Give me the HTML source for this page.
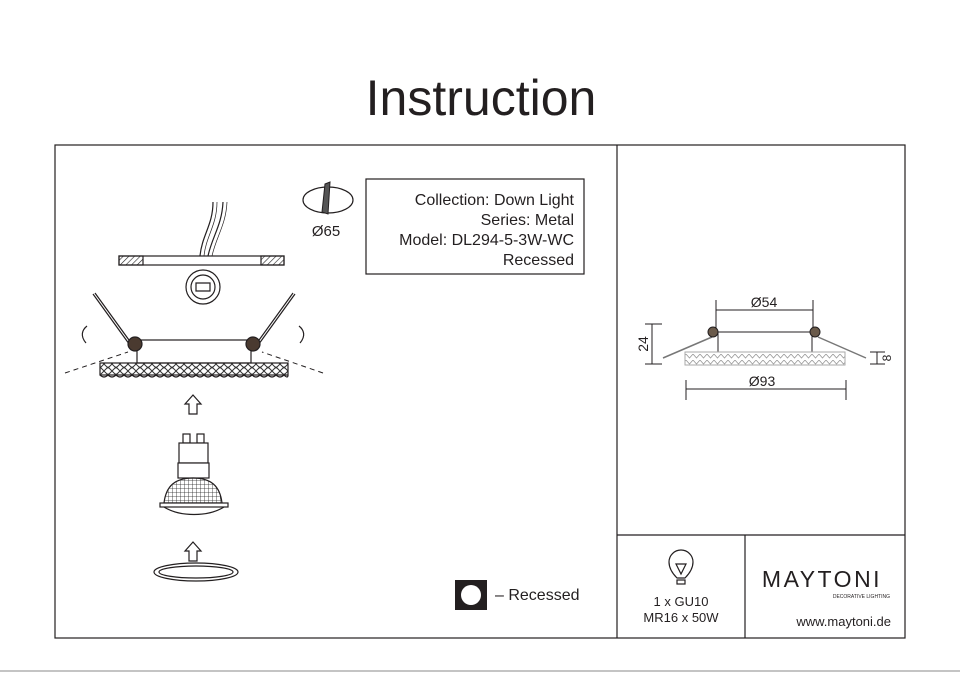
<!DOCTYPE html>
<html><head><meta charset="utf-8"><style>
html,body{margin:0;padding:0;background:#fff;}
svg{display:block;font-family:"Liberation Sans",sans-serif;}
</style></head><body>
<svg width="960" height="673" viewBox="0 0 960 673" xmlns="http://www.w3.org/2000/svg">
<defs>
<pattern id="hatch" width="4" height="4" patternUnits="userSpaceOnUse" patternTransform="rotate(45)"><line x1="0" y1="0" x2="0" y2="4" stroke="#222" stroke-width="1.2"/></pattern>
<pattern id="crys" width="8" height="7" patternUnits="userSpaceOnUse"><path d="M0 0 L4 4 L8 0 M0 7 L4 3 L8 7" stroke="#333" fill="none" stroke-width="1"/></pattern>
<pattern id="crys2" width="7" height="6" patternUnits="userSpaceOnUse"><path d="M0 0 L3.5 4 L7 0" stroke="#999" fill="none" stroke-width="0.8"/></pattern>
<pattern id="grid" width="4" height="4" patternUnits="userSpaceOnUse"><path d="M0 0H4M0 0V4" stroke="#222" stroke-width="0.8"/></pattern>
</defs>
<text x="481" y="115" font-size="50" text-anchor="middle" fill="#231f20">Instruction</text>
<g stroke="#231f20" stroke-width="1.2" fill="none">
<rect x="55" y="145" width="850" height="493"/>
<line x1="617" y1="145" x2="617" y2="638"/>
<line x1="617" y1="535" x2="905" y2="535"/>
<line x1="745" y1="535" x2="745" y2="638"/>
<rect x="366" y="179" width="218" height="95"/>
</g>
<line x1="0" y1="671" x2="960" y2="671" stroke="#888" stroke-width="1"/>
<g font-size="16" fill="#231f20" text-anchor="end">
<text x="574" y="205">Collection: Down Light</text>
<text x="574" y="225">Series: Metal</text>
<text x="574" y="245">Model: DL294-5-3W-WC</text>
<text x="574" y="265">Recessed</text>
</g>
<ellipse cx="328" cy="200" rx="25" ry="13" fill="none" stroke="#231f20" stroke-width="1.2"/>
<path d="M325 184 L330 182 L328 214 L322 212 Z" fill="#555" stroke="#231f20"/>
<text x="326" y="236" font-size="15" text-anchor="middle" fill="#231f20">Ø65</text>
<g stroke="#231f20" stroke-width="1.2">
<rect x="119" y="256" width="165" height="9" fill="#fff"/>
<rect x="119" y="256" width="24" height="9" fill="url(#hatch)"/>
<rect x="261" y="256" width="23" height="9" fill="url(#hatch)"/>
<path d="M213 202 C213 225 202 235 200 256 M223 202 C222 225 212 237 208 256" fill="none"/>
<path d="M217 202 C217 225 206 236 204 256 M227 202 C226 225 216 237 212 256" fill="none" stroke-width="0.7"/>
<circle cx="203" cy="287" r="17" fill="#fff"/>
<circle cx="203" cy="287" r="12" fill="none"/>
<path d="M196 283h14v8h-14z" fill="none"/>
</g>
<g stroke="#231f20" stroke-width="1.2">
<line x1="93" y1="294" x2="132" y2="348"/><line x1="95" y1="293" x2="134" y2="347"/>
<line x1="295" y1="294" x2="256" y2="348"/><line x1="293" y1="293" x2="254" y2="347"/>
<rect x="137" y="340" width="114" height="23" fill="#fff"/>
<circle cx="135" cy="344" r="7" fill="#4a3a30"/>
<circle cx="253" cy="344" r="7" fill="#4a3a30"/>
<rect x="100" y="363" width="188" height="12" fill="url(#crys)"/>
<path d="M100 375 q4 4 8 0 q4 4 8 0 q4 4 8 0 q4 4 8 0 q4 4 8 0 q4 4 8 0 q4 4 8 0 q4 4 8 0 q4 4 8 0 q4 4 8 0 q4 4 8 0 q4 4 8 0 q4 4 8 0 q4 4 8 0 q4 4 8 0 q4 4 8 0 q4 4 8 0 q4 4 8 0 q4 4 8 0 q4 4 8 0 q4 4 8 0 q4 4 8 0 q4 4 8 0 q4 4 4 0" fill="none"/>
<path d="M65 373 L128 352 M323 373 L262 352" stroke-dasharray="5 4" stroke-width="1"/>
<path d="M86 343 C80 336 82 330 87 326" fill="none"/>
<path d="M300 343 C306 336 304 330 299 326" fill="none"/>
</g>
<g fill="#fff" stroke="#231f20" stroke-width="1.2">
<path d="M189 414 V404 H185 L193 395 L201 404 H197 V414 Z"/>
<path d="M189 561 V551 H185 L193 542 L201 551 H197 V561 Z"/>
</g>
<g stroke="#231f20" stroke-width="1.2">
<rect x="183" y="434" width="7" height="9" fill="#fff"/><rect x="197" y="434" width="7" height="9" fill="#fff"/>
<rect x="179" y="443" width="29" height="20" fill="#fff"/>
<rect x="178" y="463" width="31" height="15" fill="#fff"/>
<path d="M164 503 C166 486 175 478 193 478 C211 478 220 486 222 503 Z" fill="url(#grid)"/>
<rect x="160" y="503" width="68" height="4" fill="#fff"/>
<path d="M164 507 C180 517 208 517 224 507" fill="none"/>
<ellipse cx="196" cy="572" rx="42" ry="9" fill="none"/>
<ellipse cx="196" cy="572" rx="37" ry="6" fill="none"/>
</g>
<rect x="455" y="580" width="32" height="30" fill="#231f20"/>
<circle cx="471" cy="595" r="10" fill="#fff"/>
<text x="495" y="600" font-size="16" fill="#231f20">– Recessed</text>
<g stroke="#231f20" stroke-width="1">
<line x1="716" y1="310" x2="813" y2="310"/><line x1="716" y1="300" x2="716" y2="330"/><line x1="813" y1="300" x2="813" y2="330"/>
<line x1="686" y1="389" x2="846" y2="389"/><line x1="686" y1="380" x2="686" y2="400"/><line x1="846" y1="380" x2="846" y2="400"/>
<line x1="652" y1="324" x2="652" y2="364"/><line x1="645" y1="324" x2="662" y2="324"/><line x1="645" y1="364" x2="662" y2="364"/>
<line x1="877" y1="352" x2="877" y2="364"/><line x1="870" y1="352" x2="885" y2="352"/><line x1="870" y1="364" x2="885" y2="364"/>
<rect x="718" y="332" width="94" height="20" fill="#fff"/>
<path d="M663 358 L712 337 M866 358 L818 337" stroke="#777" stroke-width="1.5"/>
<rect x="685" y="352" width="160" height="13" fill="url(#crys2)" stroke="#aaa"/>
<circle cx="713" cy="332" r="5" fill="#6a5a4a"/><circle cx="815" cy="332" r="5" fill="#6a5a4a"/>
</g>
<g fill="#231f20" font-size="14">
<text x="764" y="307" text-anchor="middle">Ø54</text>
<text x="762" y="386" text-anchor="middle">Ø93</text>
<text transform="translate(648,344) rotate(-90)" text-anchor="middle">24</text>
<text transform="translate(891,358) rotate(-90)" text-anchor="middle" font-size="12">8</text>
</g>
<g stroke="#231f20" stroke-width="1.2" fill="none">
<path d="M677 578 C670 571 669 566 669 562 A12 12 0 0 1 693 562 C693 566 692 571 685 578 Z"/>
<path d="M676 564 L681 574 L686 564 Z"/>
<rect x="677" y="580" width="8" height="4"/>
</g>
<g fill="#231f20" font-size="13" text-anchor="middle">
<text x="681" y="606">1 x GU10</text>
<text x="681" y="622">MR16 x 50W</text>
</g>
<text x="822" y="587" font-size="23" fill="#231f20" text-anchor="middle" letter-spacing="2.5">MAYTONI</text>
<text x="890" y="598" font-size="5" fill="#231f20" text-anchor="end">DECORATIVE LIGHTING</text>
<text x="891" y="626" font-size="13" fill="#231f20" text-anchor="end">www.maytoni.de</text>
</svg>
</body></html>
